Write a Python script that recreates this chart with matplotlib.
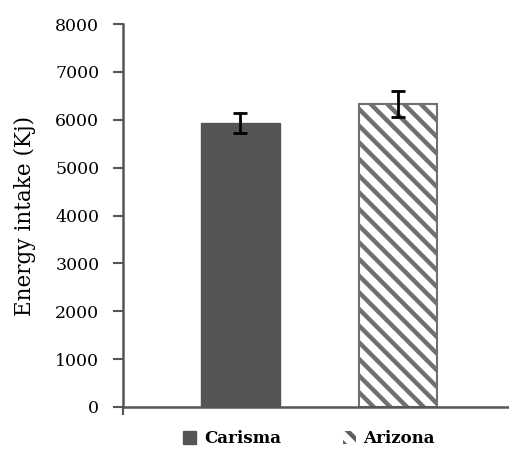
import matplotlib
matplotlib.use("Agg")
import matplotlib.pyplot as plt
from matplotlib.patches import Patch

# data
cultivars = ["Carisma", "Arizona"]
energy = [5930, 6330]
err = [210, 280]

plt.rcParams['font.family'] = ['DejaVu Serif', 'Liberation Serif']
plt.rcParams['hatch.linewidth'] = 3.2
plt.rcParams['hatch.color'] = '#606060'

fig = plt.figure(figsize=(5.1, 4.5), dpi=100)
ax = fig.add_axes([0.241, 0.0956, 0.759, 0.851])

x = [0, 1]
ax.bar(x[0], energy[0], width=0.5, color='#555555', edgecolor='#555555')
ax.bar(x[1], energy[1], width=0.5, color='white', edgecolor='#707070',
       hatch='\\\\', linewidth=1.5)
ax.errorbar(x, energy, yerr=err, fmt='none', ecolor='black', elinewidth=2,
            capsize=5, capthick=2)

ax.set_xlim(-0.746, 1.711)
ax.set_ylim(0, 8000)
ax.set_yticks(range(0, 8001, 1000))
ax.set_xticks([-0.746])
ax.set_xticklabels([''])
ax.tick_params(axis='y', direction='out', length=7, width=1.5, color='#555555',
               labelsize=12.5, pad=10)
ax.tick_params(axis='x', direction='out', length=6, width=1.5, color='#555555')
ax.spines['top'].set_visible(False)
ax.spines['right'].set_visible(False)
for s in ['left', 'bottom']:
    ax.spines[s].set_color('#555555')
    ax.spines[s].set_linewidth(1.8)
ax.set_ylabel('Energy intake (Kj)', fontsize=15.5, labelpad=14)

handles = [Patch(facecolor='#555555', edgecolor='#555555'),
           Patch(facecolor='white', edgecolor='#606060', linewidth=0, hatch='\\\\')]
fig.legend(handles, cultivars, loc='center', bbox_to_anchor=(0.606, 0.025),
           ncol=2, frameon=False, handlelength=0.8, handleheight=0.8,
           handletextpad=0.45, columnspacing=3.7,
           prop={'weight': 'bold', 'size': 12})

fig.savefig('out.png', dpi=100)
